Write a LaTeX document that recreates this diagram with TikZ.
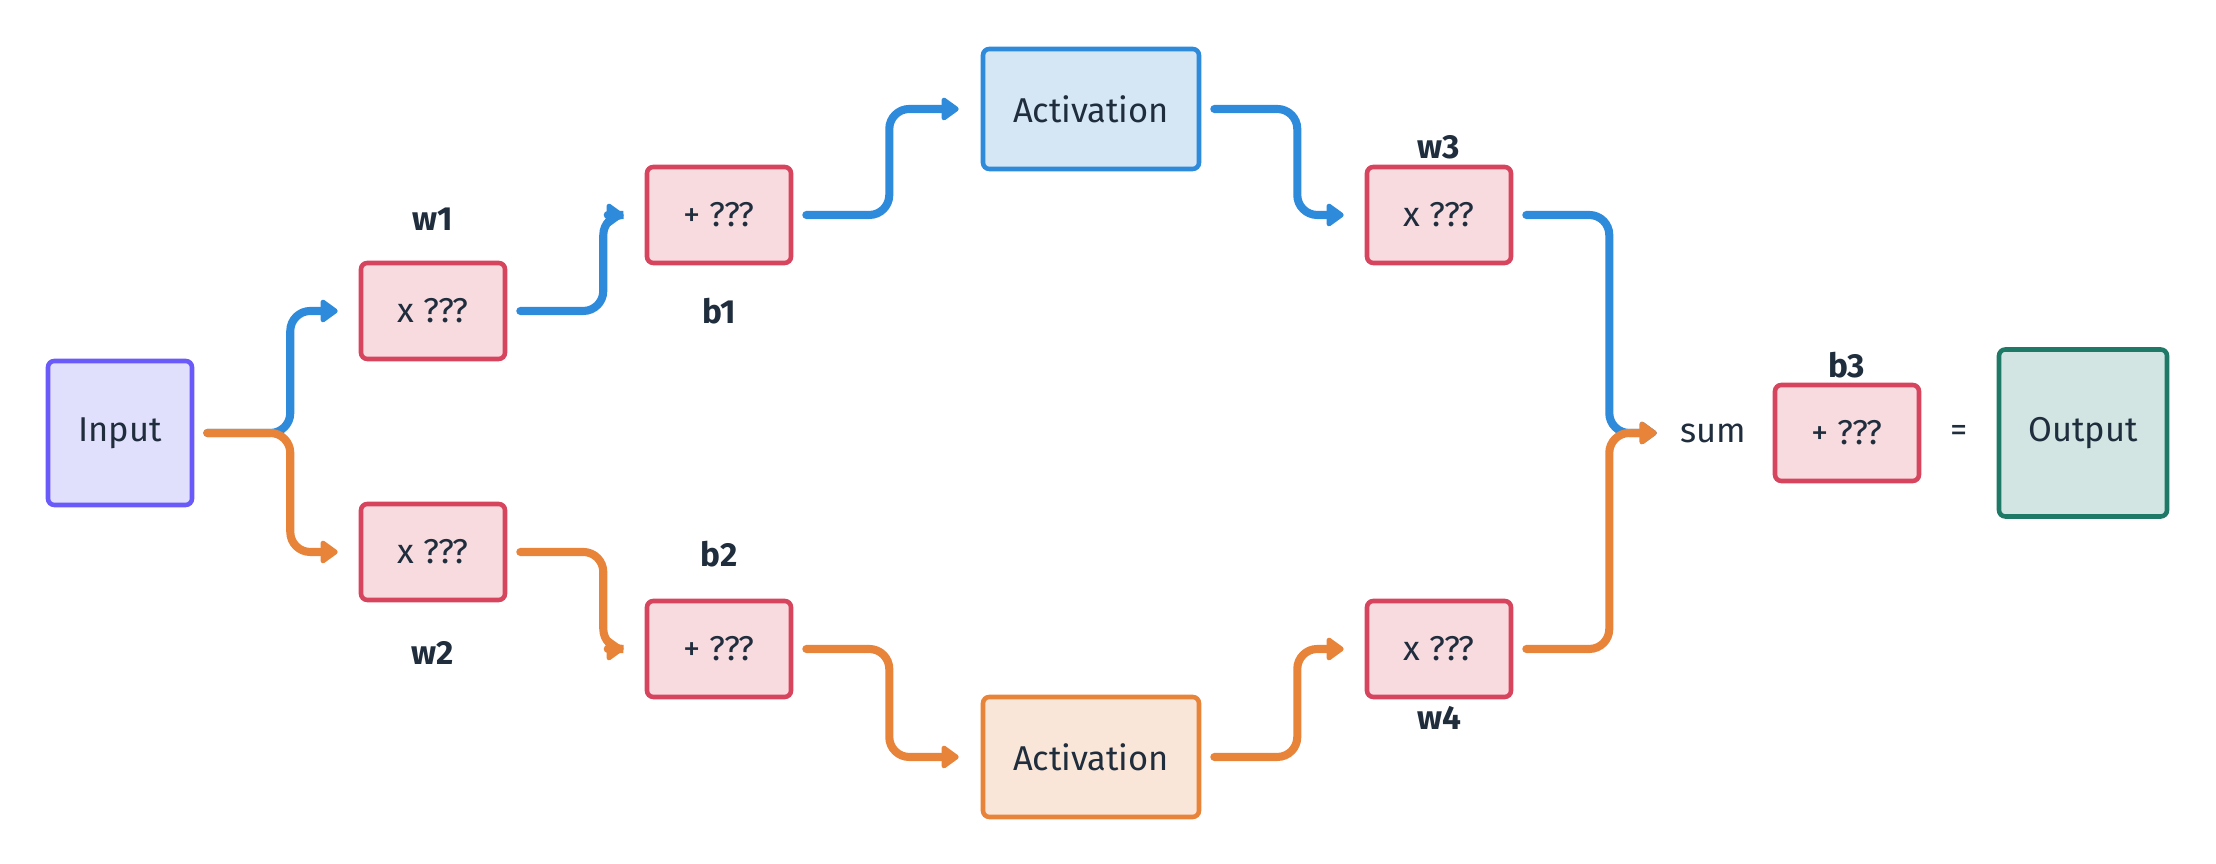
\documentclass[tikz,border=0pt]{standalone}
\usepackage{fontspec}
\setmainfont{Fira Sans}
\usetikzlibrary{positioning,arrows.meta}
\definecolor{netink}{HTML}{1F2D3D}
\definecolor{netpink}{HTML}{D6455D}
\definecolor{netpinktint}{HTML}{F7DBDF}
\definecolor{netblue}{HTML}{2E8BDB}
\definecolor{netbluetint}{HTML}{D5E6F5}
\definecolor{netorange}{HTML}{E8843A}
\definecolor{netorangetint}{HTML}{FAE6D8}
\definecolor{netviolet}{HTML}{6A5AF9}
\definecolor{netviolettint}{HTML}{E0DFFC}
\definecolor{netteal}{HTML}{1E7A66}
\definecolor{nettealtint}{HTML}{D2E5E2}

\begin{document}
\begin{tikzpicture}[
  box/.style={draw, line width=1.3pt, rounded corners=1.8pt, text=netink, font=\fontsize{9.8}{12}\selectfont},
  opbox/.style={box, draw=netpink, fill=netpinktint, minimum width=1.44cm, minimum height=0.96cm},
  actbox/.style={box, minimum width=2.16cm, minimum height=1.2cm},
  endbox/.style={box, minimum width=1.44cm, minimum height=1.44cm},
  lbl/.style={font=\bfseries\fontsize{9.5}{11}\selectfont, text=netink},
  txt/.style={font=\fontsize{9.8}{12}\selectfont, text=netink},
  flow/.style={line width=2.3pt, line cap=round, rounded corners=0.2cm, -{Triangle[length=0.19cm, width=0.26cm, round]}},
]

% frame
\useasboundingbox (0,0) rectangle (22.16,8.64);

% rows
\def\ymid{4.31}     % input / sum / output
\def\yup{5.53}      % w1
\def\ydown{3.12}    % w2
\def\yupb{6.49}     % b1, w3
\def\ydownb{2.15}   % b2, w4
\def\yact{7.55}     % upper activation
\def\ydact{1.07}    % lower activation
\def\run{0.83}      % horizontal run before each bend

% ---------- boxes ----------
\node[endbox, draw=netviolet, fill=netviolettint] (input) at (1.20,\ymid) {Input};

\node[opbox] (wone) at (4.33,\yup) {x ???};
\node[opbox] (wtwo) at (4.33,\ydown) {x ???};
\node[opbox] (bone) at (7.19,\yupb) {+ ???};
\node[opbox] (btwo) at (7.19,\ydownb) {+ ???};

\node[actbox, draw=netblue, fill=netbluetint] (actup) at (10.91,\yact) {Activation};
\node[actbox, draw=netorange, fill=netorangetint] (actdown) at (10.91,\ydact) {Activation};

\node[opbox] (wthree) at (14.39,\yupb) {x ???};
\node[opbox] (wfour) at (14.39,\ydownb) {x ???};

\node[txt] (sum) at (17.13,\ymid) {sum};
\node[opbox] (bthree) at (18.47,\ymid) {+ ???};
\node[txt] (eq) at (19.59,\ymid) {=};
\node[endbox, draw=netteal, fill=nettealtint, minimum width=1.68cm, minimum height=1.67cm] (output) at (20.83,\ymid) {Output};

% ---------- labels ----------
\node[lbl] (lwone) at (4.33,6.45) {w1};
\node[lbl] (lwtwo) at (4.33,2.11) {w2};
\node[lbl] (lbone) at (7.19,5.53) {b1};
\node[lbl] (lbtwo) at (7.19,3.10) {b2};
\node[lbl] (lwthree) at (14.39,7.17) {w3};
\node[lbl] (lwfour) at (14.39,1.46) {w4};
\node[lbl] (lbthree) at (18.47,4.99) {b3};

% ---------- upper branch ----------
\draw[flow, netblue] ([xshift=0.13cm]input.east) -- ++(\run,0) |- ([xshift=-0.21cm]wone.west);
\draw[flow, netblue] ([xshift=0.13cm]wone.east) -- ++(\run,0) coordinate (kone)
  -- (kone |- bone.west) [rounded corners=0.11cm] -- ([xshift=-0.21cm]bone.west);
\draw[flow, netblue] ([xshift=0.13cm]bone.east) -- ++(\run,0) |- ([xshift=-0.22cm]actup.west);
\draw[flow, netblue] ([xshift=0.13cm]actup.east) -- ++(\run,0) |- ([xshift=-0.21cm]wthree.west);
\draw[flow, netblue] ([xshift=0.13cm]wthree.east) -- ++(\run,0) |- ([xshift=-0.11cm]sum.west);

% ---------- lower branch ----------
\draw[flow, netorange] ([xshift=0.13cm]input.east) -- ++(\run,0) |- ([xshift=-0.21cm]wtwo.west);
\draw[flow, netorange] ([xshift=0.13cm]wtwo.east) -- ++(\run,0) coordinate (ktwo)
  -- (ktwo |- btwo.west) [rounded corners=0.11cm] -- ([xshift=-0.21cm]btwo.west);
\draw[flow, netorange] ([xshift=0.13cm]btwo.east) -- ++(\run,0) |- ([xshift=-0.22cm]actdown.west);
\draw[flow, netorange] ([xshift=0.13cm]actdown.east) -- ++(\run,0) |- ([xshift=-0.21cm]wfour.west);
\draw[flow, netorange] ([xshift=0.13cm]wfour.east) -- ++(\run,0) |- ([xshift=-0.11cm]sum.west);

\end{tikzpicture}
\end{document}
